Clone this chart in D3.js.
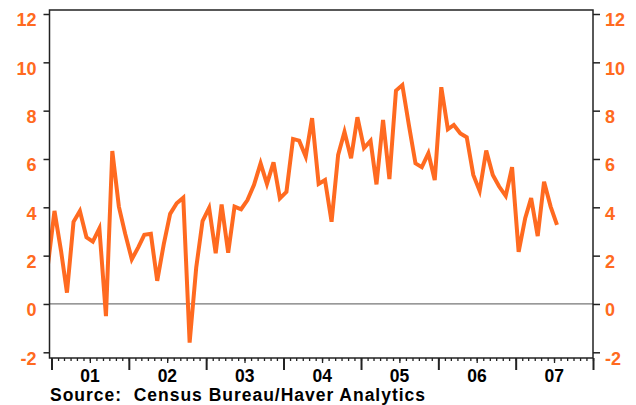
<!DOCTYPE html>
<html>
<head>
<meta charset="utf-8">
<script src="https://d3js.org/d3.v7.min.js"></script>
<style>
  body { margin: 0; background: #fff; }
  text { font-family: "Liberation Sans", Arial, sans-serif; font-weight: bold; }
</style>
</head>
<body>
<svg id="chart" width="636" height="405"></svg>
<script>
// monthly values, one list per year (2000 only has December)
var v2000 = [1.6];
var v2001 = [3.85, 2.2, 0.47, 3.4, 3.85, 2.76, 2.58, 3.13, -0.5, 6.33, 4.03, 2.9];
var v2002 = [1.85, 2.35, 2.86, 2.9, 0.96, 2.48, 3.73, 4.17, 4.4, -1.6, 1.5, 3.43];
var v2003 = [3.98, 2.1, 4.12, 2.12, 4.03, 3.92, 4.3, 4.93, 5.82, 4.97, 5.86, 4.37];
var v2004 = [4.64, 6.83, 6.76, 6.1, 7.69, 4.97, 5.13, 3.4, 6.17, 7.12, 6.03, 7.73];
var v2005 = [6.45, 6.75, 4.95, 7.62, 5.17, 8.83, 9.06, 7.4, 5.82, 5.66, 6.24, 5.13];
var v2006 = [8.97, 7.23, 7.41, 7.06, 6.9, 5.34, 4.68, 6.35, 5.34, 4.86, 4.47, 5.66];
var v2007 = [2.16, 3.55, 4.38, 2.81, 5.06, 4.03, 3.27];

var yearLabels = ["01", "02", "03", "04", "05", "06", "07"];
var yTicks = [-2, 0, 2, 4, 6, 8, 10, 12];
var source = "Source:  Census Bureau/Haver Analytics";

var orange = "#ff6a20";

// build the series: 2000 data starts in December, others in January
var byYear = [[2000, v2000, 11], [2001, v2001, 0], [2002, v2002, 0], [2003, v2003, 0],
              [2004, v2004, 0], [2005, v2005, 0], [2006, v2006, 0], [2007, v2007, 0]];
var data = [];
byYear.forEach(function(yr) {
    yr[1].forEach(function(v, i) {
        data.push({date: new Date(yr[0], yr[2] + i, 15), value: v});
    });
});

// plot frame
var fx0 = 49.5, fx1 = 593, fy0 = 10, fy1 = 358;

var svg = d3.select("#chart");

var x = d3.scaleTime()
    .domain([new Date(2001, 0, 1), new Date(2008, 0, 1)])
    .range([51.5, 593]);
var y = d3.scaleLinear().domain([-2, 12]).range([352.3, 14]);

svg.append("clipPath").attr("id", "clip")
    .append("rect")
    .attr("x", fx0).attr("y", fy0)
    .attr("width", fx1 - fx0).attr("height", fy1 - fy0);

// zero line
svg.append("line")
    .attr("x1", fx0).attr("x2", fx1)
    .attr("y1", y(0)).attr("y2", y(0))
    .style("stroke", "#777")
    .style("stroke-width", 1.2);

// the series
var line = d3.line()
    .x(function(d) { return x(d.date); })
    .y(function(d) { return y(d.value); });

svg.append("path")
    .datum(data)
    .attr("clip-path", "url(#clip)")
    .attr("d", line)
    .style("fill", "none")
    .style("stroke", orange)
    .style("stroke-width", 4);

// frame
svg.append("rect")
    .attr("x", fx0).attr("y", fy0)
    .attr("width", fx1 - fx0).attr("height", fy1 - fy0)
    .style("fill", "none")
    .style("stroke", "#222")
    .style("stroke-width", 1.5);

// left and right axes
var fmt = function(d) { return String(d); };
var yl = svg.append("g").attr("transform", "translate(" + fx0 + ",0)")
    .call(d3.axisLeft(y).tickValues(yTicks).tickFormat(fmt).tickSize(6).tickPadding(7));
var yr = svg.append("g").attr("transform", "translate(" + fx1 + ",0)")
    .call(d3.axisRight(y).tickValues(yTicks).tickFormat(fmt).tickSize(7).tickPadding(5));

[yl, yr].forEach(function(g) {
    g.select(".domain").remove();
    g.selectAll("line").style("stroke", "#222").style("stroke-width", 1.5);
    g.selectAll("text")
        .attr("dy", "0.66em")
        .style("fill", orange)
        .style("font-size", "18px")
        .style("font-family", "'Liberation Sans', Arial, sans-serif")
        .style("font-weight", "bold");
});

// bottom axis: month ticks, mid-year ticks, year ticks
var monthAxis = svg.append("g").attr("transform", "translate(0," + fy1 + ")")
    .call(d3.axisBottom(x).ticks(d3.timeMonth.every(1)).tickSize(3).tickFormat(""));
monthAxis.select(".domain").remove();
monthAxis.selectAll("line").style("stroke", "#222").style("stroke-width", 1.3);

var midAxis = svg.append("g").attr("transform", "translate(0," + fy1 + ")")
    .call(d3.axisBottom(x).tickValues(d3.timeYear.range(new Date(2001, 0, 1), new Date(2008, 0, 1))
        .map(function(d) { return new Date(d.getFullYear(), 6, 1); })).tickSize(5).tickFormat(""));
midAxis.select(".domain").remove();
midAxis.selectAll("line").style("stroke", "#222").style("stroke-width", 1.3);

var yearAxis = svg.append("g").attr("transform", "translate(0," + fy1 + ")")
    .call(d3.axisBottom(x).ticks(d3.timeYear.every(1)).tickSize(12).tickFormat(""));
yearAxis.select(".domain").remove();
yearAxis.selectAll("line").style("stroke", "#222").style("stroke-width", 2);

svg.selectAll(".yearlabel")
    .data(yearLabels)
    .enter().append("text")
    .attr("class", "yearlabel")
    .attr("x", function(d, i) { return x(new Date(2001 + i, 6, 2)); })
    .attr("y", 382)
    .attr("text-anchor", "middle")
    .style("font-size", "17.5px")
    .style("fill", "#000")
    .text(function(d) { return d; });

svg.append("text")
    .attr("x", 50)
    .attr("y", 401)
    .attr("textLength", 375)
    .attr("xml:space", "preserve")
    .style("font-size", "17.5px")
    .style("fill", "#000")
    .style("white-space", "pre")
    .text(source);
</script>
</body>
</html>
